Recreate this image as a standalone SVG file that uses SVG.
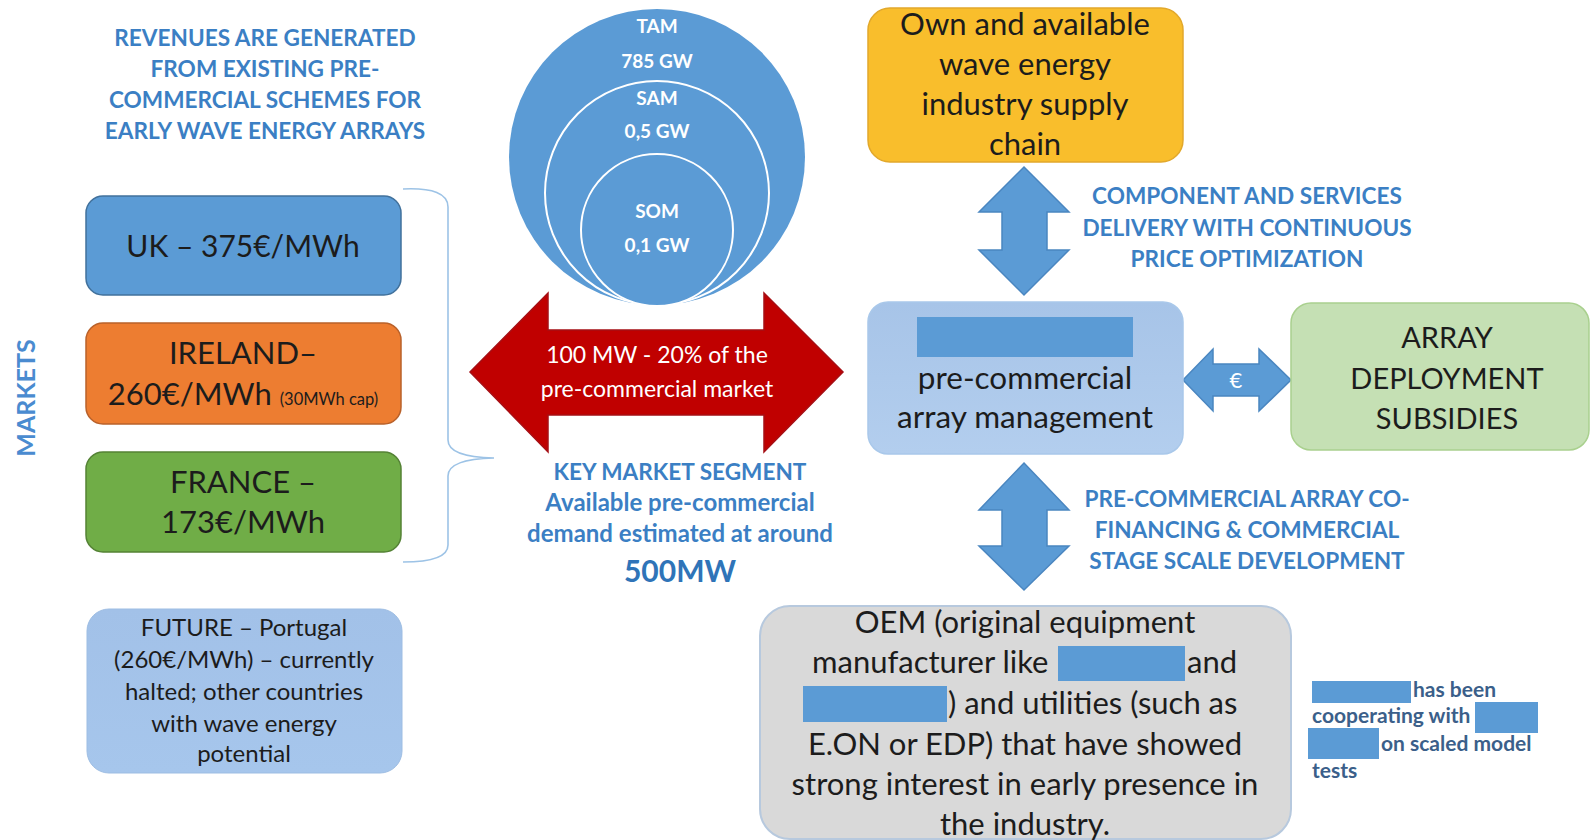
<svg xmlns="http://www.w3.org/2000/svg" width="1592" height="840" viewBox="0 0 1592 840">
<defs>
<linearGradient id="gFuture" x1="0" y1="0" x2="0" y2="1"><stop offset="0" stop-color="#A2C1E8"/><stop offset="1" stop-color="#A6C6EC"/></linearGradient>
<linearGradient id="gMgmt" x1="0" y1="0" x2="0" y2="1"><stop offset="0" stop-color="#A7C4E8"/><stop offset="1" stop-color="#B3CEEE"/></linearGradient>
</defs>
<style>
text{font-family:Lato,"Liberation Sans",sans-serif}
.hd{font-weight:700;fill:#3b7fc4;text-anchor:middle;font-size:22.6px}
.bx{fill:#1c1c1c;text-anchor:middle}
.circ{font-weight:700;fill:#ffffff;text-anchor:middle;font-size:19px}
.red{fill:#ffffff;text-anchor:middle;font-size:23px}
.small{font-weight:700;fill:#3b5f8a;font-size:21px}
.redact{fill:#5B9BD5}
.barrow{fill:#5B9BD5;stroke:#4a86c0;stroke-width:1.5}
</style>
<rect width="1592" height="840" fill="#ffffff"/>

<g id="title">
<text class="hd" x="265" y="46">REVENUES ARE GENERATED</text>
<text class="hd" x="265" y="77">FROM EXISTING PRE-</text>
<text class="hd" x="265" y="108">COMMERCIAL SCHEMES FOR</text>
<text class="hd" x="265" y="139">EARLY WAVE ENERGY ARRAYS</text>
</g>

<g id="markets-label">
<text class="hd" x="0" y="0" transform="translate(35,398) rotate(-90)" style="font-size:25px;fill:#4a8bd0">MARKETS</text>
</g>

<g id="uk">
<rect x="86" y="196" width="315" height="99" rx="17" fill="#5B9BD5" stroke="#41719C" stroke-width="1.5"/>
<text class="bx" x="243" y="257" style="font-size:30px">UK – 375€/MWh</text>
</g>

<g id="ireland">
<rect x="86" y="323" width="315" height="101" rx="17" fill="#ED7D31" stroke="#B9612A" stroke-width="1.5"/>
<text class="bx" x="243" y="364" style="font-size:31px">IRELAND–</text>
<text class="bx" x="243" y="405" style="font-size:31px">260€/MWh <tspan style="font-size:16.5px">(30MWh cap)</tspan></text>
</g>

<g id="france">
<rect x="86" y="452" width="315" height="100" rx="17" fill="#70AD47" stroke="#548235" stroke-width="1.5"/>
<text class="bx" x="243" y="493" style="font-size:31px">FRANCE –</text>
<text class="bx" x="243" y="533" style="font-size:31px">173€/MWh</text>
</g>

<g id="future">
<rect x="87" y="609" width="315" height="164" rx="22" fill="url(#gFuture)" stroke="#9DBDE3" stroke-width="1"/>
<text class="bx" x="244" y="636" style="font-size:24px">FUTURE – Portugal</text>
<text class="bx" x="244" y="668" style="font-size:24px">(260€/MWh) – currently</text>
<text class="bx" x="244" y="700" style="font-size:24px">halted; other countries</text>
<text class="bx" x="244" y="732" style="font-size:24px">with wave energy</text>
<text class="bx" x="244" y="762" style="font-size:24px">potential</text>
</g>

<g id="market-circles">
<circle cx="657" cy="157" r="148" fill="#5B9BD5"/>
<circle cx="657" cy="193" r="112" fill="#5B9BD5" stroke="#ffffff" stroke-width="2"/>
<circle cx="657" cy="230" r="76" fill="#5B9BD5" stroke="#ffffff" stroke-width="2"/>
<text class="circ" x="657" y="33">TAM</text>
<text class="circ" x="657" y="68">785 GW</text>
<text class="circ" x="657" y="105">SAM</text>
<text class="circ" x="657" y="138">0,5 GW</text>
<text class="circ" x="657" y="218">SOM</text>
<text class="circ" x="657" y="252">0,1 GW</text>
</g>

<g id="connectors">
<path d="M403,189 Q448,187 448,207 L448,440 Q448,457 494,458 Q448,459 448,476 L448,545 Q448,562 403,562" fill="none" stroke="#9DC3E6" stroke-width="1.6"/>
<path d="M470,372 L548,293 L548,330 L764,330 L764,293 L843,372 L764,452 L764,415 L548,415 L548,452 Z" fill="#C00000" stroke="#A50F15" stroke-width="1.5"/>
<path class="barrow" d="M1024,167 L1069,212 L1047,212 L1047,250 L1069,250 L1024,295 L979,250 L1002,250 L1002,212 L979,212 Z"/>
<path class="barrow" d="M1024,463 L1069,510 L1047,510 L1047,546 L1069,546 L1024,590 L979,546 L1002,546 L1002,510 L979,510 Z"/>
<path class="barrow" d="M1183,380 L1213,349 L1213,364 L1259,364 L1259,349 L1291,380 L1259,411 L1259,396 L1213,396 L1213,411 Z"/>
<text x="1236" y="388" style="font-size:22px;fill:#ffffff;text-anchor:middle">€</text>
</g>

<g id="red-arrow-label">
<text class="red" x="657" y="363">100 MW - 20% of the</text>
<text class="red" x="657" y="397">pre-commercial market</text>
</g>

<g id="key-segment">
<text class="hd" x="680" y="480">KEY MARKET SEGMENT</text>
<text class="hd" x="680" y="511" style="font-size:24px">Available pre-commercial</text>
<text class="hd" x="680" y="542" style="font-size:24px">demand estimated at around</text>
<text class="hd" x="680" y="582" style="font-size:30px;fill:#2f74b8">500MW</text>
</g>

<g id="supply-chain">
<rect x="868" y="8" width="315" height="154" rx="22" fill="#F9BE2C" stroke="#E2A82B" stroke-width="1.5"/>
<text class="bx" x="1025" y="35" style="font-size:31px">Own and available</text>
<text class="bx" x="1025" y="75" style="font-size:31px">wave energy</text>
<text class="bx" x="1025" y="115" style="font-size:31px">industry supply</text>
<text class="bx" x="1025" y="155" style="font-size:31px">chain</text>
</g>

<g id="component-label">
<text class="hd" x="1247" y="204">COMPONENT AND SERVICES</text>
<text class="hd" x="1247" y="236">DELIVERY WITH CONTINUOUS</text>
<text class="hd" x="1247" y="267">PRICE OPTIMIZATION</text>
</g>

<g id="array-management">
<rect x="868" y="302" width="315" height="152" rx="20" fill="url(#gMgmt)" stroke="#A9C8EA" stroke-width="1.5"/>
<rect class="redact" x="917" y="317" width="216" height="40"/>
<text class="bx" x="1025" y="389" style="font-size:31.5px">pre-commercial</text>
<text class="bx" x="1025" y="428" style="font-size:31.5px">array management</text>
</g>

<g id="subsidies">
<rect x="1291" y="303" width="298" height="147" rx="20" fill="#C5E0B4" stroke="#A9D08E" stroke-width="1.5"/>
<text class="bx" x="1447" y="348" style="font-size:29px">ARRAY</text>
<text class="bx" x="1447" y="389" style="font-size:29px">DEPLOYMENT</text>
<text class="bx" x="1447" y="429" style="font-size:29px">SUBSIDIES</text>
</g>

<g id="cofinancing-label">
<text class="hd" x="1247" y="507">PRE-COMMERCIAL ARRAY CO-</text>
<text class="hd" x="1247" y="538">FINANCING &amp; COMMERCIAL</text>
<text class="hd" x="1247" y="569">STAGE SCALE DEVELOPMENT</text>
</g>

<g id="oem">
<rect x="760" y="606" width="531" height="233" rx="30" fill="#D9D9D9" stroke="#B7C9DE" stroke-width="2"/>
<text class="bx" x="1025" y="633" style="font-size:31px">OEM (original equipment</text>
<text class="bx" x="812" y="673" style="font-size:31px;text-anchor:start">manufacturer like</text>
<rect class="redact" x="1058" y="646" width="127" height="35"/>
<text class="bx" x="1187" y="673" style="font-size:31px;text-anchor:start">and</text>
<rect class="redact" x="803" y="686" width="144" height="36"/>
<text class="bx" x="948" y="714" style="font-size:31px;text-anchor:start">) and utilities (such as</text>
<text class="bx" x="1025" y="755" style="font-size:31px">E.ON or EDP) that have showed</text>
<text class="bx" x="1025" y="795" style="font-size:31px">strong interest in early presence in</text>
<text class="bx" x="1025" y="835" style="font-size:31px">the industry.</text>
</g>

<g id="cooperation-note">
<rect class="redact" x="1312" y="681" width="99" height="22"/>
<text class="small" x="1413" y="697">has been</text>
<text class="small" x="1312" y="723">cooperating with</text>
<rect class="redact" x="1475" y="702" width="63" height="31"/>
<rect class="redact" x="1308" y="728" width="71" height="31"/>
<text class="small" x="1381" y="751">on scaled model</text>
<text class="small" x="1312" y="778">tests</text>
</g>
</svg>
